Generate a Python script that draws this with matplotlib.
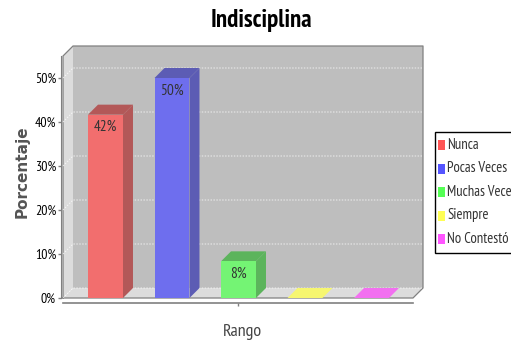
import matplotlib
matplotlib.use('Agg')
import matplotlib.pyplot as plt
from matplotlib import font_manager as fm
from matplotlib.patches import Polygon, Rectangle

# datos
categorias = ['Nunca', 'Pocas Veces', 'Muchas Veces', 'Siempre', 'No Contestó']
porcentajes = [41.67, 50, 8.33, 0, 0]
etiquetas = ['42%', '50%', '8%', '', '']
marcas_y = [0, 10, 20, 30, 40, 50]

frente = ['#f26e6e', '#6e6eee', '#74f474', '#f6f670', '#f270f0']
lado = ['#b35858', '#5c5cb4', '#5cb45c', '#b4b45c', '#b45cb4']
arriba = ['#b35858', '#5c5cb4', '#5cb45c', '#f6f670', '#f270f0']
leyenda = ['#ff5555', '#5555ff', '#55ff55', '#ffff55', '#ff55ff']

W, H = 511, 342
fig = plt.figure(figsize=(W / 100, H / 100), dpi=100)

# fuente estrecha si existe, si no DejaVu mas pequena
instaladas = set(f.name for f in fm.fontManager.ttflist)
estrecha = 'DejaVu Sans'
esc = 0.75
for nombre in ['PT Sans Narrow', 'Archivo Narrow', 'Roboto Condensed', 'Liberation Sans Narrow']:
    if nombre in instaladas:
        estrecha = nombre
        esc = 1.0
        break
plt.rcParams['font.family'] = [estrecha, 'DejaVu Sans']

# zona frontal del grafico en pixeles
x0, x1, y0, y1 = 63, 413, 298, 56
ax = fig.add_axes([x0 / W, 1 - y0 / H, (x1 - x0) / W, (y0 - y1) / H])
ax.set_xlim(-0.639, 4.624)
ax.set_ylim(0, 55)
ax.patch.set_visible(False)
for s in ax.spines.values():
    s.set_visible(False)

# profundidad 3D: 10 px en unidades de datos
dx = 10 / ((x1 - x0) / 5.263)
dy = 10 / ((y0 - y1) / 55)
xa, xb = ax.get_xlim()
ya, yb = ax.get_ylim()
gris = '#808080'

ax.add_patch(Polygon([(xa + dx, ya + dy), (xb + dx, ya + dy), (xb + dx, yb + dy), (xa + dx, yb + dy)],
                     fc='#bebebe', ec='none', clip_on=False, zorder=1))
ax.add_patch(Polygon([(xa, ya), (xa + dx, ya + dy), (xa + dx, yb + dy), (xa, yb)],
                     fc='#dcdcdc', ec='none', clip_on=False, zorder=1))
ax.add_patch(Polygon([(xa, ya), (xb, ya), (xb + dx, ya + dy), (xa + dx, ya + dy)],
                     fc='#dcdcdc', ec='none', clip_on=False, zorder=1))
# borde exterior
ax.plot([xa, xa, xa + dx, xb + dx, xb + dx, xb, xa], [ya, yb, yb + dy, yb + dy, ya + dy, ya, ya],
        color=gris, lw=0.9, clip_on=False, zorder=2)

# rejilla
for v in marcas_y:
    ax.plot([xa, xa + dx, xb + dx], [v, v + dy, v + dy], color='white', lw=0.7,
            ls=(0, (1.5, 1.5)), alpha=0.75, clip_on=False, zorder=2)

# barras
ancho = 0.526
pos = list(range(len(categorias)))
ax.bar(pos, porcentajes, width=ancho, color=frente, zorder=4)
for i, v in zip(pos, porcentajes):
    a, b = i - ancho / 2, i + ancho / 2
    ax.add_patch(Polygon([(a, v), (b, v), (b + dx, v + dy), (a + dx, v + dy)],
                         fc=arriba[i], lw=0, clip_on=False, zorder=3))
    if v > 0:
        ax.add_patch(Polygon([(b, 0), (b + dx, dy), (b + dx, v + dy), (b, v)],
                             fc=lado[i], lw=0, clip_on=False, zorder=3))
        ax.annotate(etiquetas[i], (i, v), xytext=(0, -9), textcoords='offset points',
                    ha='center', va='center', fontsize=11 * esc, color='#333333', zorder=5)

# ejes
ax.set_xticks([2])
ax.set_xticklabels([''])
ax.set_yticks(marcas_y)
ax.set_yticklabels([str(v) + '%' for v in marcas_y], fontsize=12.5 * esc, color='#707070')
ax.tick_params(axis='y', length=2.5, width=1, color=gris, pad=1)
ax.tick_params(axis='x', length=2, width=1, color=gris, pad=0)
ax.spines['left'].set_visible(True)
ax.spines['left'].set_position(('outward', 1.5))
ax.spines['left'].set_color(gris)
ax.spines['bottom'].set_visible(True)
ax.spines['bottom'].set_position(('outward', 3.6))
ax.spines['bottom'].set_color(gris)
ax.spines['bottom'].set_linewidth(1.2)

# textos
fig.text(261 / W, 1 - 20 / H, 'Indisciplina', ha='center', va='center', fontsize=18 * esc,
         fontweight='bold', color='black')
fig.text(242 / W, 1 - 332 / H, 'Rango', ha='center', va='center', fontsize=13 * esc, color='#444444')
fig.text(22 / W, 1 - 172 / H, 'Porcentaje', rotation=90, ha='center', va='center', fontsize=11,
         fontweight='bold', color='#555555', family='DejaVu Sans')

# leyenda
fig.add_artist(Rectangle((434.5 / W, 1 - 252.5 / H), 90 / W, 121 / H, fc='white', ec='black',
                         lw=1, transform=fig.transFigure))
for k, nombre in enumerate(categorias):
    yy = 145 + k * 23.5
    fig.add_artist(Rectangle((438 / W, 1 - (yy + 5) / H), 7 / W, 10 / H, fc=leyenda[k], ec='none',
                             transform=fig.transFigure))
    fig.text(447 / W, 1 - yy / H, nombre, ha='left', va='center', fontsize=10.5 * esc, color='#333333')

fig.savefig('out.png', dpi=100)
